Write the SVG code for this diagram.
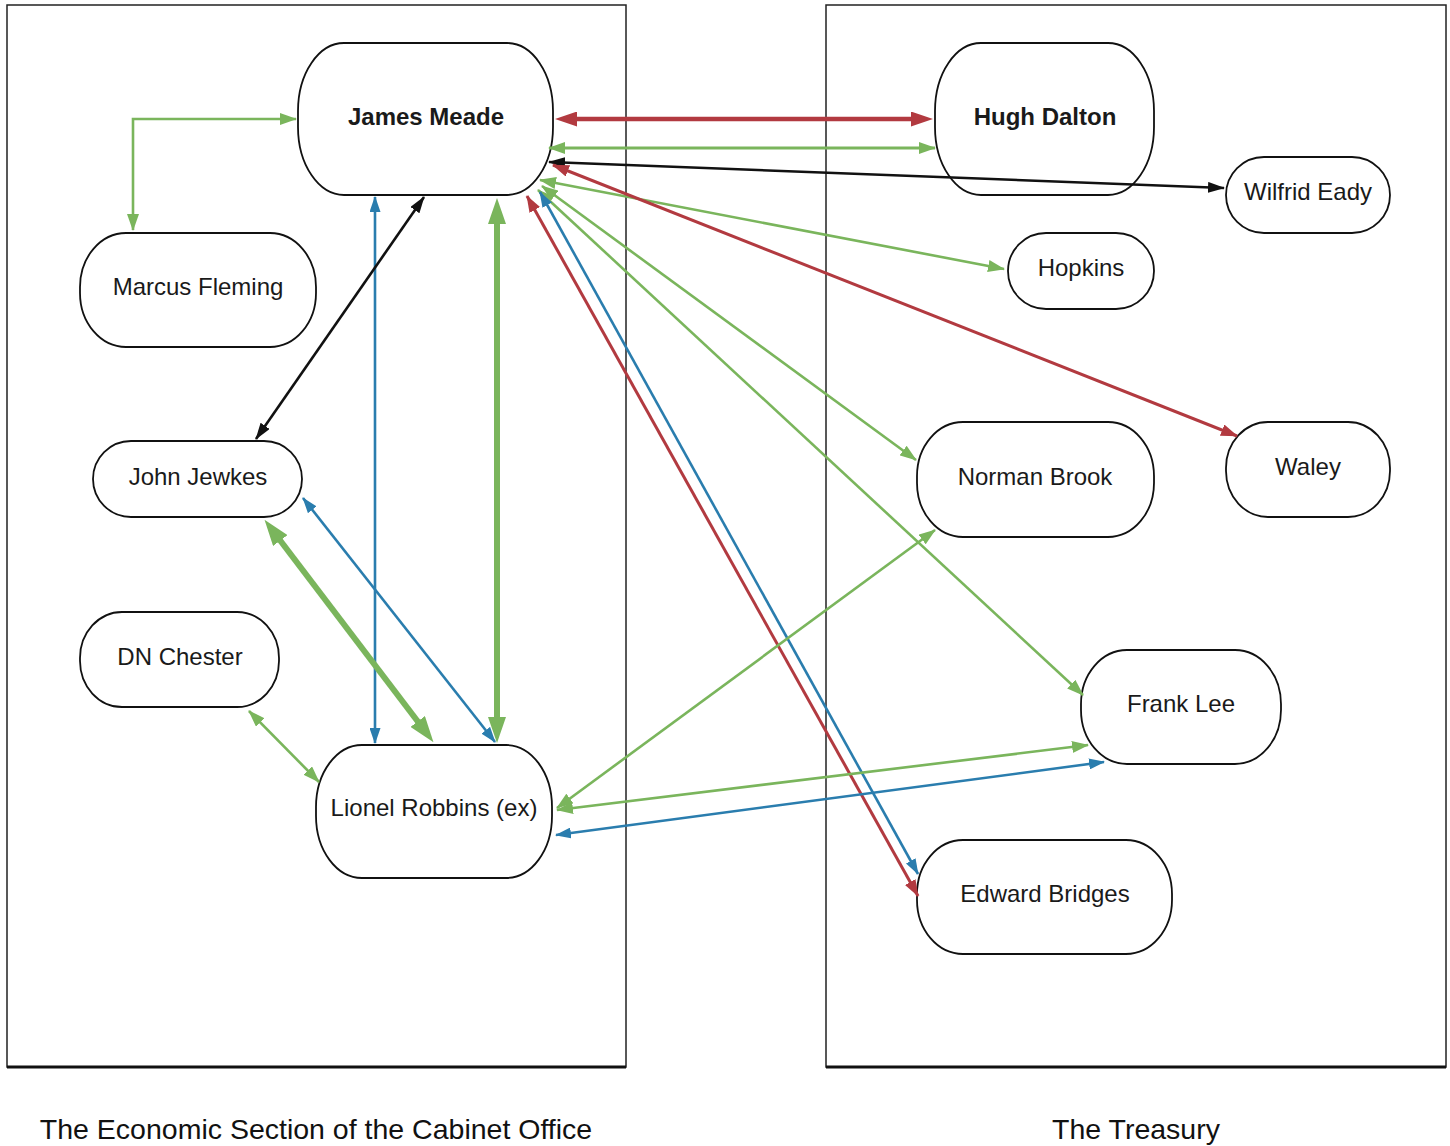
<svg xmlns="http://www.w3.org/2000/svg" width="1450" height="1146" viewBox="0 0 1450 1146">
<style>
.frame{fill:none;stroke:#222;stroke-width:1.5}
.node rect{fill:#fff;stroke:#111;stroke-width:1.8}
.node text{font-family:"Liberation Sans",Arial,sans-serif;font-size:24px;fill:#1a1a1a;text-anchor:middle}
.node text.b{font-weight:bold}
.title{font-family:"Liberation Sans",Arial,sans-serif;font-size:28.5px;fill:#111;text-anchor:middle}
.c{fill:none}
.g{stroke:#7ab55c;stroke-width:2.6}
.gT{stroke:#7ab55c;stroke-width:6}
.r{stroke:#b23a40;stroke-width:3}
.rM{stroke:#b23a40;stroke-width:4.5}
.bl{stroke:#2a7dae;stroke-width:2.6}
.k{stroke:#111;stroke-width:2.6}
</style>
<defs>
<marker id="ag" viewBox="0 0 17 12" refX="16" refY="6" markerUnits="userSpaceOnUse" markerWidth="17" markerHeight="12" orient="auto-start-reverse"><path d="M0,0 L17,6 L0,12 z" fill="#7ab55c"/></marker>
<marker id="agT" viewBox="0 0 26 18" refX="12" refY="9" markerUnits="userSpaceOnUse" markerWidth="26" markerHeight="18" orient="auto-start-reverse"><path d="M0,0 L26,9 L0,18 z" fill="#7ab55c"/></marker>
<marker id="ar" viewBox="0 0 17 12" refX="16" refY="6" markerUnits="userSpaceOnUse" markerWidth="17" markerHeight="12" orient="auto-start-reverse"><path d="M0,0 L17,6 L0,12 z" fill="#b23a40"/></marker>
<marker id="arM" viewBox="0 0 22 15" refX="12" refY="7.5" markerUnits="userSpaceOnUse" markerWidth="22" markerHeight="15" orient="auto-start-reverse"><path d="M0,0 L22,7.5 L0,15 z" fill="#b23a40"/></marker>
<marker id="ab" viewBox="0 0 16 11" refX="15" refY="5.5" markerUnits="userSpaceOnUse" markerWidth="16" markerHeight="11" orient="auto-start-reverse"><path d="M0,0 L16,5.5 L0,11 z" fill="#2a7dae"/></marker>
<marker id="ak" viewBox="0 0 17 11" refX="16" refY="5.5" markerUnits="userSpaceOnUse" markerWidth="17" markerHeight="11" orient="auto-start-reverse"><path d="M0,0 L17,5.5 L0,11 z" fill="#111"/></marker>
</defs>
<rect width="1450" height="1146" fill="#fff"/>
<g id="containers">
<rect class="frame" x="7" y="5" width="619" height="1062"/>
<line x1="7" y1="1067" x2="626" y2="1067" stroke="#111" stroke-width="3"/>
<rect class="frame" x="826" y="5" width="620" height="1062"/>
<line x1="826" y1="1067" x2="1446" y2="1067" stroke="#111" stroke-width="3"/>
<text class="title" x="316" y="1139">The Economic Section of the Cabinet Office</text>
<text class="title" x="1136" y="1139">The Treasury</text>
</g>
<g id="james-meade" class="node"><rect x="298" y="43" width="255" height="152" rx="46" ry="68"/><text class="b" x="426" y="125">James Meade</text></g>
<g id="hugh-dalton" class="node"><rect x="935" y="43" width="219" height="152" rx="46" ry="68"/><text class="b" x="1045" y="125">Hugh Dalton</text></g>
<g id="wilfrid-eady" class="node"><rect x="1226" y="157" width="164" height="76" rx="38" ry="38"/><text x="1308" y="200">Wilfrid Eady</text></g>
<g id="hopkins" class="node"><rect x="1008" y="233" width="146" height="76" rx="38" ry="38"/><text x="1081" y="276">Hopkins</text></g>
<g id="marcus-fleming" class="node"><rect x="80" y="233" width="236" height="114" rx="46" ry="54"/><text x="198" y="295">Marcus Fleming</text></g>
<g id="john-jewkes" class="node"><rect x="93" y="441" width="209" height="76" rx="38" ry="38"/><text x="198" y="485">John Jewkes</text></g>
<g id="norman-brook" class="node"><rect x="917" y="422" width="237" height="115" rx="46" ry="54"/><text x="1035" y="485">Norman Brook</text></g>
<g id="waley" class="node"><rect x="1226" y="422" width="164" height="95" rx="42" ry="46"/><text x="1308" y="475">Waley</text></g>
<g id="dn-chester" class="node"><rect x="80" y="612" width="199" height="95" rx="42" ry="46"/><text x="180" y="665">DN Chester</text></g>
<g id="frank-lee" class="node"><rect x="1081" y="650" width="200" height="114" rx="46" ry="54"/><text x="1181" y="712">Frank Lee</text></g>
<g id="lionel-robbins" class="node"><rect x="316" y="745" width="236" height="133" rx="46" ry="62"/><text x="434" y="816">Lionel Robbins (ex)</text></g>
<g id="edward-bridges" class="node"><rect x="917" y="840" width="255" height="114" rx="46" ry="54"/><text x="1045" y="902">Edward Bridges</text></g>
<g id="connectors">
<path class="c rM" d="M565,119 H923" marker-start="url(#arM)" marker-end="url(#arM)"/>
<path class="c g" style="stroke-width:3" d="M549,148 H935" marker-start="url(#ag)" marker-end="url(#ag)"/>
<path class="c k" d="M549,162 L1224,188" marker-start="url(#ak)" marker-end="url(#ak)"/>
<path class="c g" d="M540,180 L1004,269" marker-start="url(#ag)" marker-end="url(#ag)"/>
<path class="c r" d="M553,165 L1237,436" marker-start="url(#ar)" marker-end="url(#ar)"/>
<path class="c g" d="M542,186 L916,460" marker-start="url(#ag)" marker-end="url(#ag)"/>
<path class="c g" d="M538,190 L1083,695" marker-start="url(#ag)" marker-end="url(#ag)"/>
<path class="c r" d="M527,196 L918,896" marker-start="url(#ar)" marker-end="url(#ar)"/>
<path class="c bl" d="M540,192 L918,874" marker-start="url(#ab)" marker-end="url(#ab)"/>
<path class="c bl" d="M375,197 V743" marker-start="url(#ab)" marker-end="url(#ab)"/>
<path class="c k" d="M424,197 L256,439" marker-start="url(#ak)" marker-end="url(#ak)"/>
<path class="c gT" d="M497,212 V729" marker-start="url(#agT)" marker-end="url(#agT)"/>
<path class="c gT" d="M273,531 L425,731" marker-start="url(#agT)" marker-end="url(#agT)"/>
<path class="c bl" d="M303,498 L495,742" marker-start="url(#ab)" marker-end="url(#ab)"/>
<path class="c g" d="M249,711 L319,782" marker-start="url(#ag)" marker-end="url(#ag)"/>
<path class="c g" d="M133,230 V119 H296" marker-start="url(#ag)" marker-end="url(#ag)"/>
<path class="c g" d="M935,530 L557,808" marker-start="url(#ag)" marker-end="url(#ag)"/>
<path class="c g" d="M1088,745 L557,810" marker-start="url(#ag)" marker-end="url(#ag)"/>
<path class="c bl" d="M1104,762 L556,835" marker-start="url(#ab)" marker-end="url(#ab)"/>
</g>
</svg>
